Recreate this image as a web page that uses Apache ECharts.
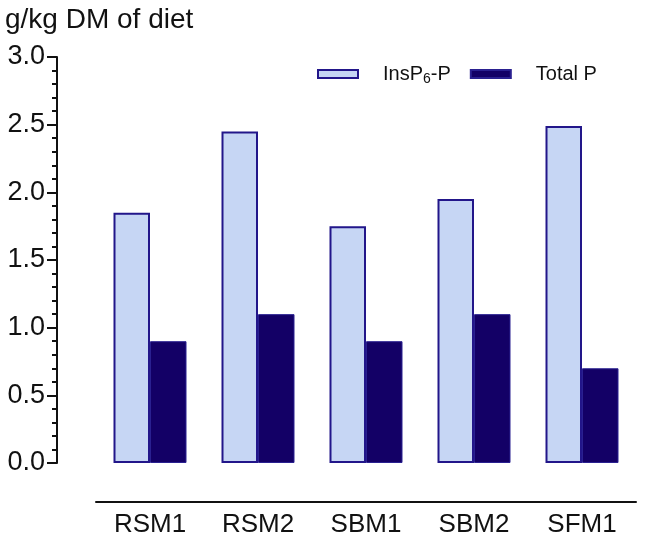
<!DOCTYPE html>
<html>
<head>
<meta charset="utf-8">
<script src="https://cdn.jsdelivr.net/npm/echarts@6/dist/echarts.min.js"></script>
<style>html,body{margin:0;padding:0;background:#fff}#c{width:654px;height:545px}</style>
</head>
<body>
<div id="c"></div>
<script>
var categories = ['RSM1', 'RSM2', 'SBM1', 'SBM2', 'SFM1'];
var insP6P = [1.85, 2.45, 1.75, 1.95, 2.49];
var totalP = [0.9, 1.1, 0.9, 1.1, 0.7];
var yTicks = [0, 0.5, 1.0, 1.5, 2.0, 2.5, 3.0];
var seriesNames = ['InsP6-P', 'Total P'];
var yTitle = 'g/kg DM of diet';

var FONT = 'Liberation Sans, Arial, sans-serif';
var chart = echarts.init(document.getElementById('c'), null, {renderer: 'canvas'});
chart.setOption({
  animation: false,
  backgroundColor: '#fff',
  title: {
    text: yTitle, left: 0, top: 1,
    textStyle: {fontFamily: FONT, fontSize: 28, fontWeight: 'normal', color: '#111'}
  },
  legend: {
    data: seriesNames.map(function (n) { return {name: n, icon: 'rect'}; }),
    left: 312, top: 59,
    itemWidth: 40, itemHeight: 8, itemGap: 19,
    formatter: function (n) {
      return n === 'InsP6-P' ? '{a|InsP}{s|6}{a|-P}' : '{a|' + n + '}';
    },
    textStyle: {
      fontFamily: FONT, fontSize: 20, color: '#111', padding: [0, 0, 0, 20],
      rich: {
        a: {fontFamily: FONT, fontSize: 20, color: '#111'},
        s: {fontFamily: FONT, fontSize: 14, color: '#111', verticalAlign: 'bottom', padding: [10, 0, 0, 0]}
      }
    }
  },
  grid: {left: 96, right: 18, top: 57, bottom: 82},
  xAxis: {
    type: 'category', data: categories, offset: 39,
    axisLine: {onZero: false, lineStyle: {color: '#111', width: 2}},
    axisTick: {show: false},
    axisLabel: {fontFamily: FONT, fontSize: 26, color: '#111', margin: 10}
  },
  yAxis: {
    type: 'value', min: 0, max: 3, interval: 0.5, offset: 39,
    axisLine: {show: true, lineStyle: {color: '#111', width: 2}},
    axisTick: {show: true, length: 10, lineStyle: {color: '#111', width: 2}},
    minorTick: {show: true, splitNumber: 5, length: 5, lineStyle: {color: '#111', width: 2}},
    splitLine: {show: false},
    axisLabel: {
      fontFamily: FONT, fontSize: 27, color: '#111', margin: 12,
      formatter: function (v) { return v.toFixed(1); }
    }
  },
  series: [
    {
      name: seriesNames[0], type: 'bar', data: insP6P, barWidth: 36.5, barGap: '0%',
      itemStyle: {color: '#c6d6f4', borderColor: '#22168a', borderWidth: 2}
    },
    {
      name: seriesNames[1], type: 'bar', data: totalP, barWidth: 36.5, barGap: '0%',
      itemStyle: {color: '#130066', borderColor: '#2a2090', borderWidth: 1}
    }
  ]
});
</script>
</body>
</html>
